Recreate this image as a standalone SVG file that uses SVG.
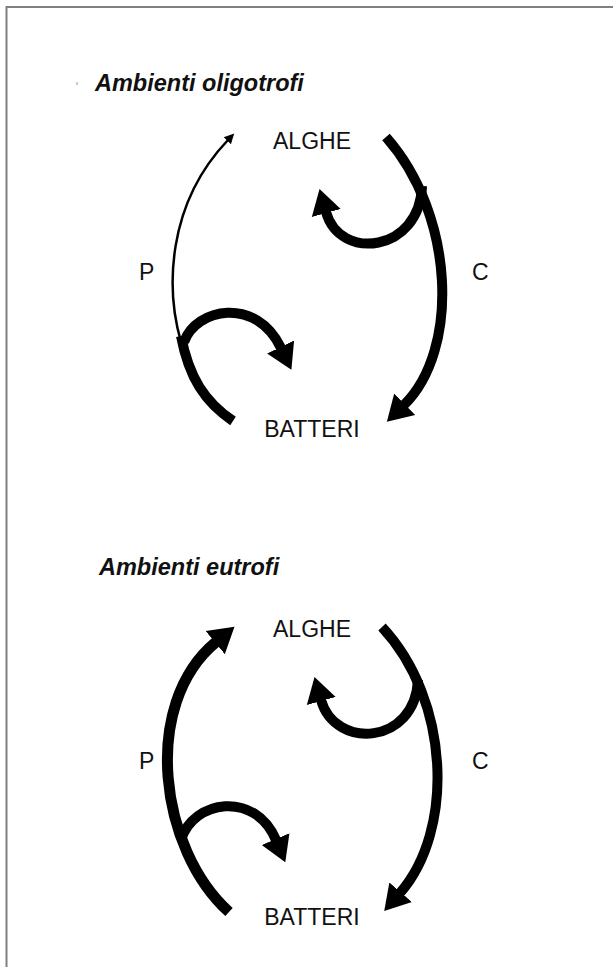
<svg xmlns="http://www.w3.org/2000/svg" width="613" height="967" viewBox="0 0 613 967">
<defs>
<style>
.title{font-family:"Liberation Sans",Arial,sans-serif;font-weight:bold;font-style:italic;font-size:23.5px;fill:#111}
.lbl{font-family:"Liberation Sans",Arial,sans-serif;font-size:23px;fill:#111}
.thick{fill:none;stroke:#000;stroke-width:10;stroke-linecap:butt}
.thin{fill:none;stroke:#000;stroke-width:2.5}
</style>
<marker id="ah" markerUnits="userSpaceOnUse" markerWidth="30" markerHeight="34" refX="1" refY="0" viewBox="0 -17 30 34" orient="auto">
<path d="M0,-15 L25,0 L0,15 z" fill="#000"/>
</marker>
<marker id="ahs" markerUnits="userSpaceOnUse" markerWidth="12" markerHeight="12" refX="1" refY="0" viewBox="0 -6 12 12" orient="auto">
<path d="M0,-5 L10,0 L0,5 z" fill="#000"/>
</marker>
</defs>
<rect width="613" height="967" fill="#fff"/>
<path d="M6.5,967 V7 H613" fill="none" stroke="#808080" stroke-width="2"/>
<line x1="77" y1="82" x2="77" y2="85" stroke="#999" stroke-width="1"/>

<g id="titles">
<text class="title" x="95" y="91">Ambienti oligotrofi</text>
<text class="title" x="99" y="575">Ambienti eutrofi</text>
</g>

<g id="alghe1"><text class="lbl" x="312" y="149" text-anchor="middle">ALGHE</text></g>
<g id="batteri1"><text class="lbl" x="312" y="437" text-anchor="middle">BATTERI</text></g>
<g id="p1"><text class="lbl" x="139" y="280">P</text></g>
<g id="c1"><text class="lbl" x="472" y="280">C</text></g>

<g id="alghe2"><text class="lbl" x="312" y="637" text-anchor="middle">ALGHE</text></g>
<g id="batteri2"><text class="lbl" x="312" y="925" text-anchor="middle">BATTERI</text></g>
<g id="p2"><text class="lbl" x="139" y="769">P</text></g>
<g id="c2"><text class="lbl" x="472" y="769">C</text></g>

<g id="connectors">
<!-- oligotrofi -->
<path class="thin" d="M181,342 C166,290 166,205 228,140" marker-end="url(#ahs)"/>
<path class="thick" d="M233,421 C205,402 189,378 181,336"/>
<path class="thick" d="M184,342 C196,308 256,296 281,348" marker-end="url(#ah)"/>
<path class="thick" d="M386,137 C455,215 460,350 404,405" marker-end="url(#ah)"/>
<path class="thick" d="M422,186 C420,252 340,262 326,212" marker-end="url(#ah)"/>
<!-- eutrofi -->
<path class="thick" style="stroke-width:11" d="M229,912 C160,850 140,705 216,642" marker-end="url(#ah)"/>
<path class="thick" d="M181,840 C193,800 255,790 276,840" marker-end="url(#ah)"/>
<path class="thick" d="M382,627 C450,700 455,830 400,893" marker-end="url(#ah)"/>
<path class="thick" d="M418,680 C415,745 335,750 321,700" marker-end="url(#ah)"/>
</g>
</svg>
